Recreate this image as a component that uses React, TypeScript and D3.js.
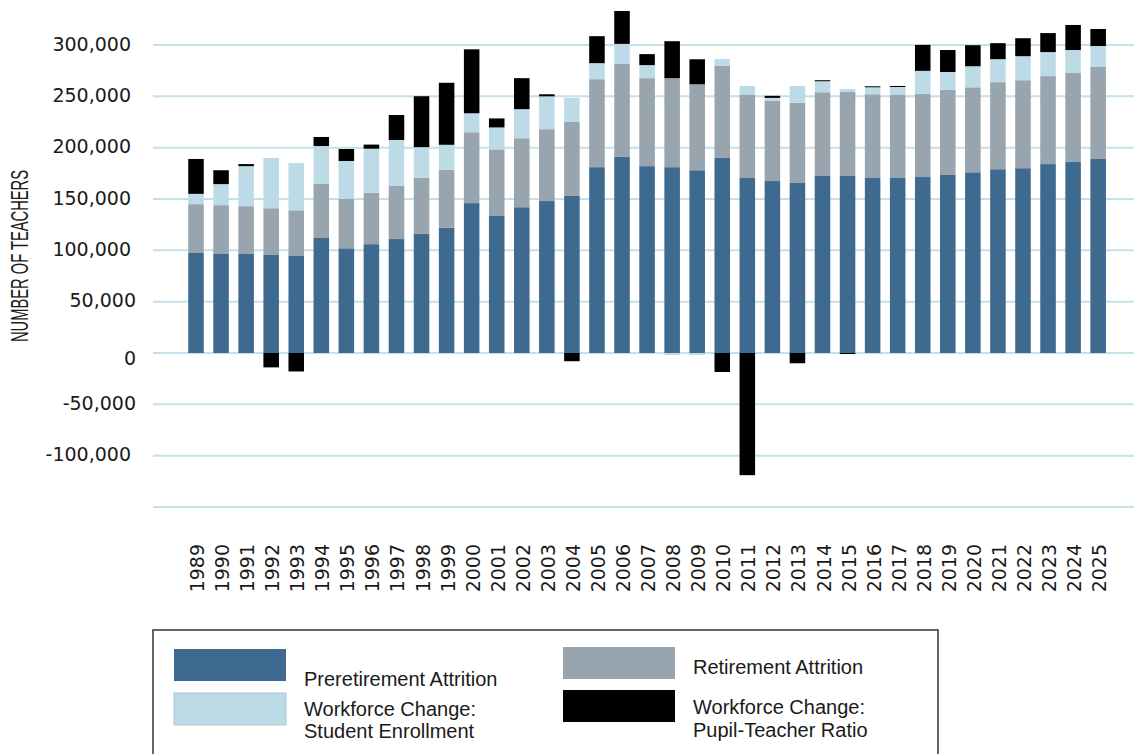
import React from "react";
import * as d3 from "d3";

const years = [
  "1989", "1990", "1991", "1992", "1993", "1994", "1995", "1996", "1997", "1998",
  "1999", "2000", "2001", "2002", "2003", "2004", "2005", "2006", "2007", "2008",
  "2009", "2010", "2011", "2012", "2013", "2014", "2015", "2016", "2017", "2018",
  "2019", "2020", "2021", "2022", "2023", "2024", "2025",
];

// values in thousands of teachers
const preretirement = [
  98, 97, 97, 96, 94.5, 112, 102, 106, 111, 116,
  122, 146, 134, 142, 148, 153, 181, 191, 182, 181,
  178, 190, 170.5, 167.5, 165.6, 173, 172.4, 171, 170.5, 171.4,
  173.4, 176, 179, 180, 184, 186, 189,
];
const retirement = [
  47, 47, 46, 45, 44.5, 52.6, 48, 50, 51.7, 54.5,
  56.5, 69, 64.3, 67.2, 70, 72, 85.7, 90.6, 85.7, 86.7,
  83.7, 89.6, 80.8, 78, 78, 81, 81.8, 81, 80.8, 81,
  82.8, 82.8, 84.8, 85.7, 85.7, 86.7, 89.6,
];
const enrollment = [
  10, 20.5, 39, 49, 46, 37, 37, 43, 44.8, 30,
  24.3, 18.5, 21.4, 28.3, 32, 23.4, 15.6, 19.5, 12.7, -2,
  -2, 6.8, 8.8, 3, 16.5, 10.7, 3, 6.8, 7.8, 22.4,
  17.5, 20.5, 22.4, 23.4, 23.4, 22.4, 20.4,
];
const pupilTeacher = [
  34, 13.5, 2, -14, -18, 8.8, 11.7, 4, 24.3, 49.6,
  60.4, 62.3, 8.8, 30.2, 2, -8, 26.3, 32, 10.7, 36,
  24.4, -18.5, -119, 2, -10, 1, -1, 1, 1, 25.3,
  21.4, 20.5, 15.6, 17.5, 18.5, 24.4, 16.6,
];

const seriesKeys = ["pre", "ret", "enr", "ptr"];
const seriesNames = [
  ["Preretirement Attrition"],
  ["Retirement Attrition"],
  ["Workforce Change:", "Student Enrollment"],
  ["Workforce Change:", "Pupil-Teacher Ratio"],
];
const seriesColors = ["#3e6a90", "#98a4ae", "#bddbe6", "#000000"];

const yTicks = [300000, 250000, 200000, 150000, 100000, 50000, 0, -50000, -100000];
const yGridExtra = [-150000];

export default function App() {
  const W = 1134;
  const H = 754;

  const rows = years.map((y, i) => ({
    year: y,
    pre: preretirement[i] * 1000,
    ret: retirement[i] * 1000,
    enr: enrollment[i] * 1000,
    ptr: pupilTeacher[i] * 1000,
  }));

  const stacked = d3
    .stack<any>()
    .keys(seriesKeys)
    .offset(d3.stackOffsetDiverging)(rows);

  const x = d3
    .scaleBand<string>()
    .domain(years)
    .range([183.47, 1110.69])
    .paddingInner(0.38)
    .paddingOuter(0.19);

  const y = d3.scaleLinear().domain([-150000, 300000]).range([507, 45]);

  const fmt = d3
    .formatLocale({ decimal: ".", thousands: ",", grouping: [3], currency: ["$", ""], minus: "-" })
    .format(",");
  const gridX0 = 153;
  const gridX1 = 1134;

  const legendItems = [
    { i: 0, sx: 174, sy: 649, tx: 304, ty: [686] },
    { i: 2, sx: 174, sy: 693, tx: 304, ty: [716, 738] },
    { i: 1, sx: 563, sy: 647, tx: 693, ty: [674] },
    { i: 3, sx: 563, sy: 690, tx: 693, ty: [714, 737] },
  ];

  return (
    <svg
      width={W}
      height={H}
      style={{ position: "absolute", left: 0, top: 0, background: "#fff" }}
    >
      {/* gridlines */}
      {[...yTicks, ...yGridExtra].map((t) => (
        <line
          key={"g" + t}
          x1={gridX0}
          x2={gridX1}
          y1={y(t)}
          y2={y(t)}
          stroke="#c4e0e8"
          strokeWidth={2}
        />
      ))}

      {/* y tick labels */}
      {yTicks.map((t) => (
        <text
          key={"t" + t}
          x={Math.abs(t) >= 100000 ? 131 : 136}
          y={y(t) + (t === 0 ? 5 : -1.5)}
          textAnchor="end"
          dominantBaseline="central"
          fontFamily="DejaVu Sans"
          fontSize={19}
          fill="#1a1a1a"
        >
          {fmt(t)}
        </text>
      ))}

      {/* y axis title */}
      <text
        transform="translate(19,256) rotate(-90)"
        textAnchor="middle"
        dominantBaseline="central"
        fontFamily="Liberation Sans"
        fontSize={24}
        textLength={172}
        lengthAdjust="spacingAndGlyphs"
        fill="#1a1a1a"
      >
        NUMBER OF TEACHERS
      </text>

      {/* bars */}
      {stacked.map((s, si) => (
        <g key={s.key} fill={seriesColors[si]}>
          {s.map((d: any, i: number) => {
            const y0 = y(d[0]);
            const y1 = y(d[1]);
            return (
              <rect
                key={i}
                x={x(years[i])}
                width={x.bandwidth()}
                y={Math.min(y0, y1)}
                height={Math.abs(y1 - y0)}
              />
            );
          })}
        </g>
      ))}

      {/* x labels */}
      {years.map((yr) => (
        <text
          key={"x" + yr}
          transform={`translate(${(x(yr) as number) + x.bandwidth() / 2 + 1},544) rotate(-90)`}
          textAnchor="end"
          dominantBaseline="central"
          fontFamily="DejaVu Sans"
          fontSize={19}
          fill="#1a1a1a"
        >
          {yr}
        </text>
      ))}

      {/* legend */}
      <rect
        x={153}
        y={630}
        width={785}
        height={140}
        fill="none"
        stroke="#333"
        strokeWidth={1.5}
      />
      {legendItems.map((it) => (
        <g key={"l" + it.i}>
          <rect
            x={it.sx}
            y={it.sy}
            width={112}
            height={32}
            fill={seriesColors[it.i]}
            stroke={it.i === 2 ? "#a6c8d6" : "none"}
            strokeWidth={1}
          />
          {seriesNames[it.i].map((line, li) => (
            <text
              key={li}
              x={it.tx}
              y={it.ty[li]}
              fontFamily="Liberation Sans"
              fontSize={20}
              fill="#1a1a1a"
            >
              {line}
            </text>
          ))}
        </g>
      ))}
    </svg>
  );
}
